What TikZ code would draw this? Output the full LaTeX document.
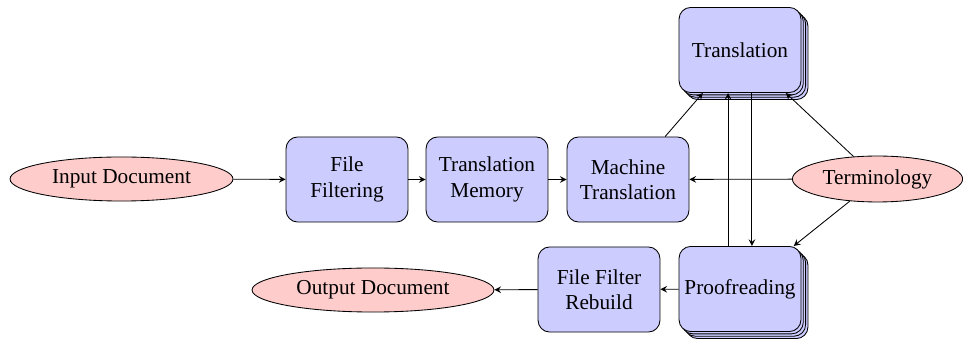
\documentclass[tikz,border=0pt]{standalone}
\usepackage{fontspec}
\setmainfont{Liberation Serif}
\usetikzlibrary{shapes.geometric,shadows,arrows}
\tikzset{
  procbox/.style={draw, fill=blue!20, rounded corners=5.5pt, minimum width=57.3pt, minimum height=40pt, align=center, inner sep=2pt},
  stackbox/.style={procbox,
    copy shadow={shadow xshift=3.3pt, shadow yshift=-3.3pt},
    copy shadow={shadow xshift=2.2pt, shadow yshift=-2.2pt},
    copy shadow={shadow xshift=1.1pt, shadow yshift=-1.1pt}},
  docell/.style={draw, fill=red!20, ellipse, minimum height=20.7pt, inner sep=1pt},
  conn/.style={->, >=stealth, thin}
}
\begin{document}
\begin{tikzpicture}[x=0.47pt, y=-0.47pt]
\useasboundingbox (0,0) rectangle (963,340);
\node[docell, minimum width=104.8pt] (input) at (121.5,179) {Input Document};
\node[procbox] (ff) at (347,179.5) {File\\Filtering};
\node[procbox] (tm) at (487,179.5) {Translation\\Memory};
\node[procbox] (mt) at (628,179.5) {Machine\\Translation};
\node[stackbox] (trans) at (740,50) {Translation};
\node[stackbox] (proof) at (740,289) {Proofreading};
\node[procbox] (ffr) at (599,289.5) {File Filter\\Rebuild};
\node[docell, minimum width=113.7pt] (output) at (373,290) {Output Document};
\node[docell, minimum width=80pt, minimum height=21.6pt] (term) at (877.5,179) {Terminology};

\draw[conn] (input) -- (ff);
\draw[conn] (ff) -- (tm);
\draw[conn] (tm) -- (mt);
\draw[conn] (mt) -- (trans);
\draw[conn] ([xshift=-5.6pt]proof.north) -- ([xshift=-5.6pt]trans.south);
\draw[conn] ([xshift=5.6pt]trans.south) -- ([xshift=5.6pt]proof.north);
\draw[conn] (term) -- (trans);
\draw[conn] (term) -- (mt);
\draw[conn] (term) -- (proof);
\draw[conn] (proof) -- (ffr);
\draw[conn] (ffr) -- (output);
\end{tikzpicture}
\end{document}
